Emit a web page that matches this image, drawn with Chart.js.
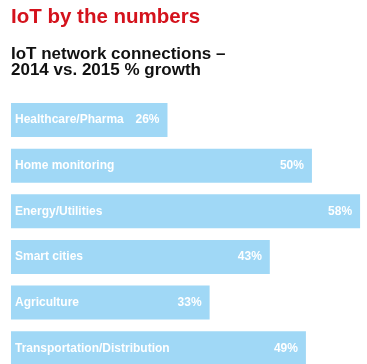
<!DOCTYPE html>
<html>
<head>
<meta charset="utf-8">
<script src="https://cdn.jsdelivr.net/npm/chart.js@4.4.1/dist/chart.umd.min.js"></script>
<style>
  html, body { margin: 0; padding: 0; background: #ffffff; overflow: hidden; }
  #wrap { position: relative; width: 367px; height: 371px; }
</style>
</head>
<body>
<div id="wrap"><canvas id="c"></canvas></div>
<script>
const categories = ["Healthcare/Pharma", "Home monitoring", "Energy/Utilities", "Smart cities", "Agriculture", "Transportation/Distribution"];
const growthValues = [26, 50, 58, 43, 33, 49];
const titleText = "IoT by the numbers";
const subtitleLines = ["IoT network connections \u2013", "2014 vs. 2015 % growth"];

const barLabelPlugin = {
  id: 'barLabels',
  afterDatasetsDraw(chart) {
    const ctx = chart.ctx;
    const meta = chart.getDatasetMeta(0);
    ctx.save();
    ctx.fillStyle = '#ffffff';
    ctx.font = 'bold 12px "Liberation Sans", Arial, sans-serif';
    ctx.textBaseline = 'middle';
    meta.data.forEach((bar, i) => {
      const left = bar.base;
      ctx.textAlign = 'left';
      ctx.fillText(categories[i], left + 4, bar.y);
      ctx.textAlign = 'right';
      ctx.fillText(growthValues[i] + '%', bar.x - 8, bar.y);
    });
    ctx.restore();
  }
};

new Chart(document.getElementById('c'), {
  type: 'bar',
  data: {
    labels: categories,
    datasets: [{
      data: growthValues,
      backgroundColor: '#a0d8f6',
      borderWidth: 0,
      categoryPercentage: 1,
      barPercentage: 0.745
    }]
  },
  options: {
    indexAxis: 'y',
    responsive: true,
    maintainAspectRatio: false,
    animation: false,
    layout: { padding: { left: 11, right: 0, top: 0, bottom: 0 } },
    scales: {
      x: { display: false, min: 0, max: 59.15 },
      y: { display: false }
    },
    plugins: {
      legend: { display: false },
      tooltip: { enabled: false },
      title: {
        display: true,
        text: titleText,
        align: 'start',
        color: '#d4121c',
        font: { family: '"Liberation Sans", Arial, sans-serif', size: 20.5, weight: 'bold', lineHeight: 1.2 },
        padding: { top: 5.3, bottom: 0 }
      },
      subtitle: {
        display: true,
        text: subtitleLines,
        align: 'start',
        color: '#111111',
        font: { family: '"Liberation Sans", Arial, sans-serif', size: 17, weight: 'bold', lineHeight: 0.912 },
        padding: { top: 17.05, bottom: 19.35 }
      }
    }
  },
  plugins: [barLabelPlugin]
});
</script>
</body>
</html>
